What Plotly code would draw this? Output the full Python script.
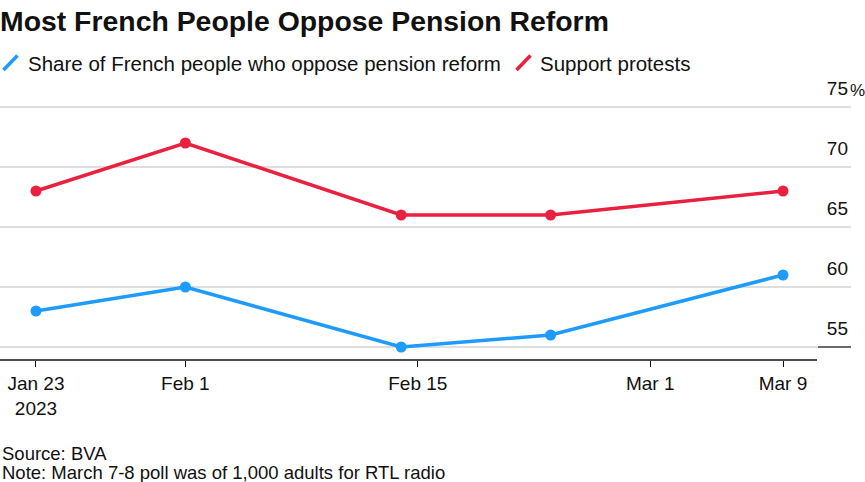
import plotly.graph_objects as go

# ---- data ----
dates = ["2023-01-23", "2023-02-01", "2023-02-14", "2023-02-23", "2023-03-09"]
oppose_name = "Share of French people who oppose pension reform"
oppose = [58, 60, 55, 56, 61]
protest_name = "Support protests"
protest = [68, 72, 66, 66, 68]
x_tickvals = ["2023-01-23", "2023-02-01", "2023-02-15", "2023-03-01", "2023-03-09"]
x_ticktext = ["Jan 23<br>2023", "Feb 1", "Feb 15", "Mar 1", "Mar 9"]
y_tickvals = [55, 60, 65, 70, 75]
y_ticktext = ["55", "60", "65", "70", "75"]

BLUE = "#1E9BFF"
RED = "#EA2041"
FONT = "Liberation Sans, Arial, sans-serif"

W, H = 865, 482
L, R, T, B = 0, 14, 77, 122
PW, PH = W - L - R, H - T - B


def px_x(p):
    return (p - L) / PW


def px_y(p):
    return (H - B - p) / PH


fig = go.Figure()
fig.add_trace(go.Scatter(x=dates, y=oppose, name=oppose_name, mode="lines+markers",
                         line=dict(color=BLUE, width=3.5), marker=dict(size=11, color=BLUE)))
fig.add_trace(go.Scatter(x=dates, y=protest, name=protest_name, mode="lines+markers",
                         line=dict(color=RED, width=3.5), marker=dict(size=11, color=RED)))

shapes = [
    # x-axis baseline
    dict(type="line", xref="paper", yref="paper", x0=0, x1=px_x(817), y0=0, y1=0,
         line=dict(color="#111111", width=1.5)),
    # dark segment under lowest gridline label
    dict(type="line", xref="paper", yref="y", x0=px_x(818), x1=px_x(851), y0=55, y1=55,
         line=dict(color="#444444", width=1.5)),
    # legend slashes
    dict(type="line", xref="paper", yref="paper", x0=px_x(3.5), x1=px_x(17.5), y0=px_y(70), y1=px_y(55.5),
         line=dict(color=BLUE, width=3.5)),
    dict(type="line", xref="paper", yref="paper", x0=px_x(516.5), x1=px_x(530.5), y0=px_y(70), y1=px_y(55.5),
         line=dict(color=RED, width=3.5)),
]

annotations = [
    dict(text=oppose_name, xref="paper", yref="paper", x=px_x(26), y=px_y(63),
         xanchor="left", yanchor="middle", showarrow=False, font=dict(size=20.5, color="#111111", family=FONT)),
    dict(text=protest_name, xref="paper", yref="paper", x=px_x(538), y=px_y(63),
         xanchor="left", yanchor="middle", showarrow=False, font=dict(size=20.5, color="#111111", family=FONT)),
    dict(text="%", xref="paper", yref="y", x=1.0, y=75, xanchor="left", yanchor="bottom",
         xshift=-2, yshift=6, borderpad=0, showarrow=False, font=dict(size=17, color="#111111", family=FONT)),
    dict(text="Source: BVA", xref="paper", yref="paper", x=0, y=px_y(453),
         xanchor="left", yanchor="middle", showarrow=False, font=dict(size=18.5, color="#111111", family=FONT)),
    dict(text="Note: March 7-8 poll was of 1,000 adults for RTL radio", xref="paper", yref="paper",
         x=0, y=px_y(472), xanchor="left", yanchor="middle", showarrow=False,
         font=dict(size=18.5, color="#111111", family=FONT)),
]

fig.update_layout(
    width=W, height=H, autosize=False,
    margin=dict(l=L, r=R, t=T, b=B, pad=0),
    paper_bgcolor="white", plot_bgcolor="white",
    showlegend=False,
    font=dict(family=FONT, color="#111111", size=19),
    title=dict(text="<b>Most French People Oppose Pension Reform</b>", x=0, xref="paper", xanchor="left",
               y=1 - 21 / H, yanchor="middle", font=dict(size=28.4, family=FONT, color="#111111")),
    xaxis=dict(type="date", range=["2023-01-20 20:00", "2023-03-13 02:18"],
               tickvals=x_tickvals, ticktext=x_ticktext, showgrid=False, showline=False,
               ticks="outside", ticklen=6, tickwidth=1.2, tickcolor="#111111",
               tickfont=dict(size=19, family=FONT, color="#111111"), zeroline=False),
    yaxis=dict(range=[53.917, 77.5], side="right", tickvals=y_tickvals, ticktext=y_ticktext,
               ticklabelposition="inside top", ticklabelshift=-5, showgrid=True, gridcolor="#dedede",
               gridwidth=1.5, showline=False, zeroline=False, ticks="",
               tickfont=dict(size=19, family=FONT, color="#111111")),
    shapes=shapes, annotations=annotations,
)

fig.write_html("out.html", config={"displayModeBar": False},
               post_script="document.body.style.margin='0';")
